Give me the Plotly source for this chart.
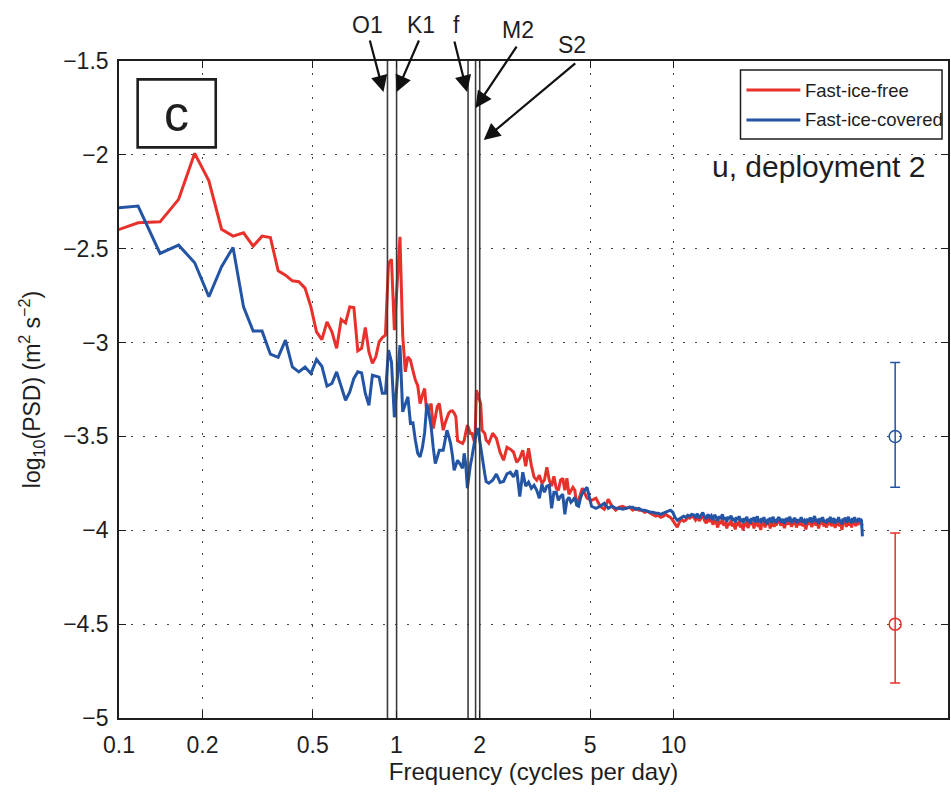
import numpy as np
import plotly.graph_objects as go

# Spectral resolution of the 1024-hour segments, in cycles per day
DF = 24.0 / 1024.0

# Frequency bins plotted (bin k sits at k * DF cycles per day)
BINS_LOW = list(range(4, 91))
BINS_HIGH = list(range(92, 201, 3)) + list(range(208, 1001, 8)) + list(range(1008, 2049, 16))

# log10(PSD) of u, deployment 2 -- fast-ice-free period
FREE_LOW = [
    -2.412, -2.362, -2.357, -2.237, -1.992, -2.138, -2.396, -2.433, -2.415, -2.486,
    -2.433, -2.440, -2.618, -2.641, -2.671, -2.676, -2.710, -2.810, -2.943, -2.984,
    -2.890, -2.943, -3.031, -2.877, -2.895, -2.810, -2.813, -3.044, -3.031, -2.920,
    -3.050, -3.111, -3.076, -2.996, -2.973, -2.960, -2.578, -2.557, -2.934, -2.667,
    -2.437, -2.961, -3.156, -3.076, -3.094, -3.150, -3.200, -3.230, -3.325, -3.280,
    -3.245, -3.378, -3.350, -3.325, -3.458, -3.400, -3.340, -3.325, -3.400, -3.467,
    -3.430, -3.396, -3.375, -3.365, -3.364, -3.375, -3.396, -3.524, -3.530, -3.536,
    -3.538, -3.520, -3.480, -3.440, -3.460, -3.484, -3.484, -3.520, -3.538, -3.254,
    -3.280, -3.300, -3.325, -3.467, -3.475, -3.484, -3.520,
]
FREE_HIGH = [
    # bins 92-200
    -3.536, -3.483, -3.510, -3.584, -3.627, -3.558, -3.568, -3.584, -3.638, -3.616,
    -3.574, -3.659, -3.563, -3.654, -3.717, -3.733, -3.707, -3.750, -3.733, -3.664,
    -3.733, -3.765, -3.712, -3.776, -3.787, -3.733, -3.723, -3.787, -3.723, -3.808,
    -3.787, -3.771, -3.787, -3.867, -3.840, -3.803, -3.776,
    # bins 208-496
    -3.829, -3.840, -3.829, -3.872, -3.888, -3.835, -3.872, -3.893, -3.877, -3.872,
    -3.883, -3.877, -3.893, -3.883, -3.893, -3.893, -3.904, -3.899, -3.909, -3.915,
    -3.925, -3.920, -3.931, -3.925, -3.915, -3.925, -3.931, -3.947, -3.968, -3.984,
    -3.957, -3.941, -3.952, -3.947, -3.931, -3.936, -3.925,
    # bins 504-1000
    -3.930, -3.945, -3.925, -3.950, -3.938, -3.920, -3.948, -3.962, -3.935, -3.955,
    -3.940, -3.970, -3.945, -3.958, -3.985, -3.950, -3.965, -3.940, -3.975, -3.955,
    -3.990, -3.960, -3.972, -3.948, -3.980, -3.962, -3.995, -3.958, -3.975, -3.950,
    -3.985, -3.965, -4.000, -3.960, -3.978, -3.952, -3.988, -3.968, -3.945, -3.972,
    -3.958, -3.990, -3.962, -3.975, -3.948, -3.982, -3.965, -3.998, -3.960, -3.975,
    -3.952, -3.985, -3.968, -3.945, -3.972, -3.958, -3.990, -3.962, -3.978, -3.950,
    -3.982, -3.965, -3.975,
    # bins 1008-2048
    -3.960, -3.945, -3.975, -3.955, -3.988, -3.950, -3.970, -3.942, -3.980, -3.962,
    -3.948, -3.985, -3.958, -3.972, -3.945, -3.978, -3.965, -3.995, -3.955, -3.970,
    -3.948, -3.982, -3.962, -3.940, -3.975, -3.958, -3.990, -3.952, -3.968, -3.945,
    -3.980, -3.962, -3.985, -3.955, -3.972, -3.948, -3.978, -3.965, -3.950, -3.988,
    -3.958, -3.975, -3.945, -3.980, -3.962, -3.998, -3.955, -3.970, -3.948, -3.982,
    -3.965, -3.942, -3.975, -3.958, -3.985, -3.952, -3.970, -3.945, -3.978, -3.960,
    -3.972, -3.950, -3.968, -3.955, -3.965, -3.975,
]

# log10(PSD) of u, deployment 2 -- fast-ice-covered period
COVERED_LOW = [
    -2.285, -2.273, -2.525, -2.481, -2.575, -2.756, -2.596, -2.493, -2.810, -2.939,
    -2.939, -3.062, -3.079, -2.987, -3.130, -3.156, -3.130, -3.165, -3.090, -3.126,
    -3.232, -3.218, -3.156, -3.236, -3.307, -3.263, -3.191, -3.156, -3.162, -3.271,
    -3.334, -3.174, -3.179, -3.184, -3.270, -3.270, -3.040, -3.103, -3.398, -3.200,
    -3.014, -3.369, -3.330, -3.289, -3.431, -3.428, -3.520, -3.590, -3.609, -3.560,
    -3.480, -3.325, -3.380, -3.449, -3.560, -3.644, -3.610, -3.574, -3.574, -3.574,
    -3.520, -3.467, -3.500, -3.538, -3.600, -3.680, -3.654, -3.627, -3.640, -3.660,
    -3.670, -3.590, -3.650, -3.776, -3.700, -3.650, -3.610, -3.560, -3.510, -3.470,
    -3.456, -3.510, -3.570, -3.610, -3.654, -3.700, -3.740,
]
COVERED_HIGH = [
    # bins 92-200
    -3.749, -3.733, -3.700, -3.745, -3.740, -3.700, -3.691, -3.716, -3.680, -3.820,
    -3.691, -3.765, -3.744, -3.776, -3.760, -3.787, -3.829, -3.755, -3.797, -3.765,
    -3.760, -3.883, -3.797, -3.797, -3.840, -3.819, -3.808, -3.915, -3.840, -3.824,
    -3.851, -3.840, -3.824, -3.867, -3.872, -3.829, -3.803,
    # bins 208-496
    -3.771, -3.872, -3.883, -3.872, -3.856, -3.883, -3.872, -3.883, -3.883, -3.888,
    -3.883, -3.877, -3.877, -3.888, -3.883, -3.893, -3.893, -3.899, -3.904, -3.904,
    -3.909, -3.909, -3.915, -3.909, -3.904, -3.899, -3.893, -3.904, -3.931, -3.947,
    -3.941, -3.931, -3.925, -3.931, -3.920, -3.925, -3.915,
    # bins 504-1000
    -3.918, -3.930, -3.912, -3.935, -3.920, -3.905, -3.928, -3.940, -3.915, -3.932,
    -3.922, -3.945, -3.918, -3.930, -3.950, -3.925, -3.938, -3.915, -3.944, -3.930,
    -3.955, -3.928, -3.940, -3.922, -3.948, -3.935, -3.958, -3.930, -3.945, -3.925,
    -3.952, -3.938, -3.962, -3.935, -3.948, -3.928, -3.955, -3.940, -3.965, -3.935,
    -3.950, -3.930, -3.958, -3.942, -3.925, -3.955, -3.940, -3.962, -3.935, -3.950,
    -3.930, -3.958, -3.945, -3.968, -3.938, -3.952, -3.932, -3.960, -3.945, -3.928,
    -3.955, -3.940, -3.962,
    # bins 1008-2048
    -3.945, -3.930, -3.958, -3.940, -3.965, -3.935, -3.952, -3.928, -3.960, -3.945,
    -3.935, -3.962, -3.942, -3.955, -3.930, -3.958, -3.948, -3.968, -3.938, -3.952,
    -3.932, -3.960, -3.945, -3.925, -3.955, -3.940, -3.965, -3.935, -3.950, -3.930,
    -3.958, -3.945, -3.962, -3.938, -3.952, -3.928, -3.960, -3.948, -3.935, -3.965,
    -3.942, -3.955, -3.930, -3.958, -3.945, -3.968, -3.938, -3.950, -3.932, -3.960,
    -3.945, -3.928, -3.955, -3.940, -3.962, -3.935, -3.950, -3.930, -3.958, -3.942,
    -3.955, -3.935, -3.950, -3.940, -3.948, -4.032,
]

# Tidal constituents and inertial frequency (cycles per day)
TIDE_NAMES = ["O1", "K1", "f", "M2", "S2"]
TIDE_FREQS = [0.9295, 1.0027, 1.815, 1.9323, 2.0]

# 95% confidence intervals (log10 units) drawn at the right-hand side
CI_FREQ = 63.0
CI_CENTER = {"free": -4.5, "covered": -3.5}
CI_UP = {"free": 0.486, "covered": 0.394}
CI_DOWN = {"free": 0.314, "covered": 0.271}

X_TICKS = [0.1, 0.2, 0.5, 1, 2, 5, 10]
X_TICK_TEXT = ["0.1", "0.2", "0.5", "1", "2", "5", "10"]
Y_TICKS = [-1.5, -2, -2.5, -3, -3.5, -4, -4.5, -5]
Y_TICK_TEXT = ["\u22121.5", "\u22122", "\u22122.5", "\u22123", "\u22123.5", "\u22124", "\u22124.5", "\u22125"]

RED = "#e8312b"
BLUE = "#2455a5"
INK = "#1e1e1e"
FONT = "Liberation Sans, Arial, Helvetica, sans-serif"

assert len(FREE_LOW) == len(BINS_LOW) == len(COVERED_LOW)
assert len(FREE_HIGH) == len(BINS_HIGH) == len(COVERED_HIGH)

freq = DF * np.array(BINS_LOW + BINS_HIGH, dtype=float)
psd_free = np.array(FREE_LOW + FREE_HIGH)
psd_covered = np.array(COVERED_LOW + COVERED_HIGH)

fig = go.Figure()

fig.add_trace(go.Scatter(x=freq, y=psd_free, mode="lines", name="Fast-ice-free",
                         line=dict(color=RED, width=3), showlegend=False))
fig.add_trace(go.Scatter(x=freq, y=psd_covered, mode="lines", name="Fast-ice-covered",
                         line=dict(color=BLUE, width=3), showlegend=False))

# vertical markers at the tidal / inertial frequencies
for name, fc in zip(TIDE_NAMES, TIDE_FREQS):
    fig.add_trace(go.Scatter(x=[fc, fc], y=[-5, -1.5], mode="lines", name=name,
                             line=dict(color="#3c3c3c", width=1.6),
                             hoverinfo="skip", showlegend=False))

# confidence intervals
for key, col in (("covered", BLUE), ("free", RED)):
    fig.add_trace(go.Scatter(
        x=[CI_FREQ], y=[CI_CENTER[key]], mode="markers", showlegend=False,
        marker=dict(symbol="circle-open", size=12, color=col, line=dict(width=1.5, color=col)),
        error_y=dict(type="data", symmetric=False, array=[CI_UP[key]],
                     arrayminus=[CI_DOWN[key]], color=col, thickness=1.5, width=5),
    ))

axis_common = dict(
    showline=True, linecolor=INK, linewidth=1.6, mirror="ticks",
    ticks="inside", ticklen=7, tickwidth=1.3, tickcolor=INK,
    showgrid=True, gridcolor="#444444", gridwidth=1, griddash="2px,10px",
    zeroline=False, tickfont=dict(family=FONT, size=23, color=INK),
)

fig.update_xaxes(
    type="log", range=[-1, np.log10(97.7)],
    tickmode="array", tickvals=X_TICKS, ticktext=X_TICK_TEXT,
    title=dict(text="Frequency (cycles per day)", font=dict(family=FONT, size=24, color=INK),
               standoff=4),
    ticklabelstandoff=6,
    **axis_common,
)
fig.update_yaxes(
    range=[-5, -1.5],
    tickmode="array", tickvals=Y_TICKS, ticktext=Y_TICK_TEXT,
    title=dict(text="log<sub>10</sub>(PSD) (m<sup>2</sup> s<sup>\u22122</sup>)",
               font=dict(family=FONT, size=23, color=INK), standoff=16),
    ticklabelstandoff=4,
    **axis_common,
)

annotations = []

# arrows: tip height (paper), tail offset from tip (px), tip nudge (px)
ARROW_TIP_Y = [0.9528, 0.9528, 0.9528, 0.9284, 0.8797]
ARROW_DX = [-14, 23, -13, 42, 93]
ARROW_DY = [-53, -53, -52, -63, -78]
TIP_SHIFT = [-4, 0, -1, 0, 4]
# labels: position above the plot (paper) and horizontal offset from the line (px)
LABEL_SHIFT = [-20, 24, -12, 42, 92]
LABEL_Y = [1.0548, 1.0548, 1.0548, 1.0472, 1.0244]

for i, (name, fc) in enumerate(zip(TIDE_NAMES, TIDE_FREQS)):
    annotations.append(dict(
        x=np.log10(fc), y=ARROW_TIP_Y[i], xref="x", yref="paper",
        xshift=TIP_SHIFT[i], text="", showarrow=True,
        ax=ARROW_DX[i], ay=ARROW_DY[i], axref="pixel", ayref="pixel",
        arrowhead=2, arrowsize=1.5, arrowwidth=2.2, arrowcolor="#111111",
    ))
    annotations.append(dict(
        x=np.log10(fc), y=LABEL_Y[i], xref="x", yref="paper",
        xshift=LABEL_SHIFT[i], text=name, showarrow=False,
        xanchor="center", yanchor="middle",
        font=dict(family=FONT, size=23, color=INK),
    ))

# panel letter and case label
annotations.append(dict(x=0.0694, y=0.9193, xref="paper", yref="paper", text="c",
                        showarrow=False, xanchor="center", yanchor="middle",
                        font=dict(family=FONT, size=50, color=INK)))
annotations.append(dict(x=0.8436, y=0.8401, xref="paper", yref="paper",
                        text="u, deployment 2", showarrow=False,
                        xanchor="center", yanchor="middle",
                        font=dict(family=FONT, size=30, color=INK)))

# legend entries
LEG_Y = [0.9558, 0.9102]
for (label, col), ly in zip((("Fast-ice-free", RED), ("Fast-ice-covered", BLUE)), LEG_Y):
    annotations.append(dict(x=0.8255, y=ly, xref="paper", yref="paper", text=label,
                            showarrow=False, xanchor="left", yanchor="middle",
                            font=dict(family=FONT, size=18.5, color=INK)))

shapes = [
    dict(type="rect", xref="paper", yref="paper", x0=0.0225, x1=0.1167, y0=0.8686, y1=0.9721,
         line=dict(color=INK, width=2.6), fillcolor="white", layer="above"),
    dict(type="rect", xref="paper", yref="paper", x0=0.7497, x1=0.9928, y0=0.8812, y1=0.9863,
         line=dict(color=INK, width=1.5), fillcolor="white", layer="above"),
    dict(type="line", xref="paper", yref="paper", x0=0.7569, x1=0.8219, y0=LEG_Y[0], y1=LEG_Y[0],
         line=dict(color=RED, width=3), layer="above"),
    dict(type="line", xref="paper", yref="paper", x0=0.7569, x1=0.8219, y0=LEG_Y[1], y1=LEG_Y[1],
         line=dict(color=BLUE, width=3), layer="above"),
]

fig.update_layout(
    width=951, height=796,
    margin=dict(l=119, r=1, t=61, b=78),
    paper_bgcolor="white", plot_bgcolor="white",
    showlegend=False,
    font=dict(family=FONT, size=23, color=INK),
    annotations=annotations, shapes=shapes,
)

fig.write_html("out.html")
